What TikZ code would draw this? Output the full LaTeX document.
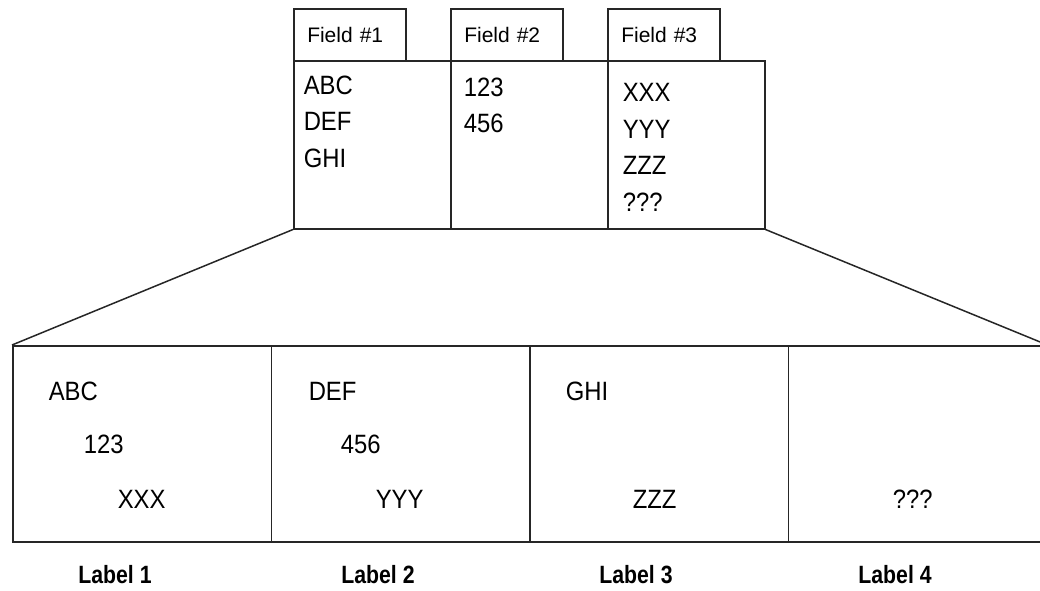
\documentclass[tikz,border=0pt]{standalone}
\usepackage{fontspec}
\setmainfont{Liberation Sans}
\newfontfamily\narrowfont{Liberation Sans}[FakeStretch=0.9]
\newfontfamily\labelfont{Liberation Sans}[FakeStretch=0.85]
\usetikzlibrary{positioning}

\begin{document}
\begin{tikzpicture}[x=1pt, y=-1pt, line width=1.5pt, font=\narrowfont\fontsize{26.5}{36.5}\selectfont,
    tabbox/.style={draw=black!85, minimum width=112pt, minimum height=52pt, anchor=north west, inner xsep=13.5pt, text width=85pt, align=left, font=\fontsize{21}{24}\selectfont},
    colbox/.style={draw=black!85, minimum width=157pt, minimum height=168pt, anchor=north west, inner sep=0pt},
    cellbox/.style={draw=black!85, minimum width=258.5pt, minimum height=196pt, anchor=north west, inner sep=0pt},
    entry/.style={inner sep=0pt, align=left},
    lbl/.style={inner sep=0pt, anchor=base, font=\labelfont\fontsize{25}{27}\selectfont\bfseries}]
    \useasboundingbox (0,0) rectangle (1040,590);

    % Field tabs
    \node[tabbox] (tab1) at (293,8) {Field \#1};
    \node[tabbox] (tab2) at (450,8) {Field \#2};
    \node[tabbox] (tab3) at (607,8) {Field \#3};

    % Field columns
    \node[colbox] (col1) at (293,60) {};
    \node[colbox] (col2) at (450,60) {};
    \node[colbox] (col3) at (607,60) {};

    % Column contents
    \node[entry, below right=15pt and 10pt of col1.north west] (list1) {ABC\\DEF\\GHI};
    \node[entry, below right=17pt and 13pt of col2.north west] (list2) {123\\456};
    \node[entry, below right=23pt and 15pt of col3.north west] (list3) {XXX\\YYY\\ZZZ\\???};

    % Result cells
    \node[cellbox] (cell1) at (12,345) {};
    \node[cellbox] (cell2) at (270.5,345) {};
    \node[cellbox] (cell3) at (529,345) {};
    \node[cellbox] (cell4) at (787.5,345) {};

    % Expansion lines
    \draw[black!85] (col1.south west) -- (cell1.north west);
    \draw[black!85] (col3.south east) -- (cell4.north east);

    % Cell contents
    \node[entry, anchor=base west] (abc) at (48,400) {ABC};
    \node[entry, anchor=base west] (n123) at (83,453) {123};
    \node[entry, anchor=base west] (xxx) at (117,508) {XXX};
    \node[entry, anchor=base west] (def) at (308,400) {DEF};
    \node[entry, anchor=base west] (n456) at (340,453) {456};
    \node[entry, anchor=base west] (yyy) at (375,508) {YYY};
    \node[entry, anchor=base west] (ghi) at (565,400) {GHI};
    \node[entry, anchor=base west] (zzz) at (632,508) {ZZZ};
    \node[entry, anchor=base west] (qqq) at (892,508) {???};

    % Labels
    \node[lbl] (label1) at (115,583) {Label 1};
    \node[lbl] (label2) at (378,583) {Label 2};
    \node[lbl] (label3) at (636,583) {Label 3};
    \node[lbl] (label4) at (895,583) {Label 4};
\end{tikzpicture}
\end{document}
